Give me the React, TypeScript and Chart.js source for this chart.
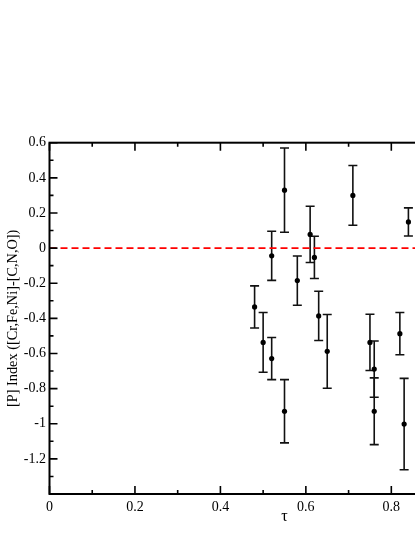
import React, { useEffect, useRef } from "react";
import { Chart, registerables } from "chart.js";
Chart.register(...registerables);

const tau = [0.48, 0.5, 0.52, 0.52, 0.55, 0.55, 0.58, 0.61, 0.62, 0.63, 0.65, 0.71, 0.75, 0.76, 0.76, 0.82, 0.83, 0.84];
const pIndex = [-0.335, -0.537, -0.044, -0.629, 0.33, -0.929, -0.185, 0.078, -0.053, -0.386, -0.588, 0.3, -0.537, -0.689, -0.929, -0.487, -1.002, 0.149];
const pErr = [0.12, 0.17, 0.14, 0.12, 0.24, 0.18, 0.14, 0.16, 0.12, 0.14, 0.21, 0.17, 0.16, 0.16, 0.19, 0.12, 0.26, 0.08];

const X_MIN = 0;
const X_MAX = 1.1;
const Y_MIN = -1.4;
const Y_MAX = 0.6;
const REF_Y = 0;
const X_LABEL = "τ";
const Y_LABEL = "[P] Index ([Cr,Fe,Ni]-[C,N,O])";

const SERIF = "'Liberation Serif', 'DejaVu Serif', serif";

const fmt = (v: number) => String(Number(v.toFixed(1)));

const errorBarPlugin = {
  id: "errorBars",
  beforeDatasetsDraw(chart: any) {
    const ctx = chart.ctx;
    const xs = chart.scales.x;
    const ys = chart.scales.y;
    ctx.save();
    ctx.strokeStyle = "#111";
    ctx.lineWidth = 1.6;
    const cap = 4.5;
    for (let i = 0; i < tau.length; i++) {
      const px = xs.getPixelForValue(tau[i]);
      const top = ys.getPixelForValue(pIndex[i] + pErr[i]);
      const bot = ys.getPixelForValue(pIndex[i] - pErr[i]);
      ctx.beginPath();
      ctx.moveTo(px, top);
      ctx.lineTo(px, bot);
      ctx.moveTo(px - cap, top);
      ctx.lineTo(px + cap, top);
      ctx.moveTo(px - cap, bot);
      ctx.lineTo(px + cap, bot);
      ctx.stroke();
    }
    ctx.restore();
  },
};

const framePlugin = {
  id: "frameTicks",
  afterDraw(chart: any) {
    const ctx = chart.ctx;
    const { left, right, top, bottom } = chart.chartArea;
    const xs = chart.scales.x;
    const ys = chart.scales.y;
    ctx.save();
    ctx.strokeStyle = "#000";
    ctx.lineWidth = 1.6;
    const major = 8;
    const minor = 4;
    for (let k = 0; k <= Math.round((X_MAX - X_MIN) / 0.1); k++) {
      const v = X_MIN + k * 0.1;
      const px = xs.getPixelForValue(v);
      const len = k % 2 === 0 ? major : minor;
      ctx.beginPath();
      ctx.moveTo(px, bottom);
      ctx.lineTo(px, bottom - len);
      ctx.moveTo(px, top);
      ctx.lineTo(px, top + len);
      ctx.stroke();
    }
    for (let k = 0; k <= Math.round((Y_MAX - Y_MIN) / 0.1); k++) {
      const v = Y_MIN + k * 0.1;
      const py = ys.getPixelForValue(v);
      const len = k % 2 === 0 ? major : minor;
      ctx.beginPath();
      ctx.moveTo(left, py);
      ctx.lineTo(left + len, py);
      ctx.moveTo(right, py);
      ctx.lineTo(right - len, py);
      ctx.stroke();
    }
    ctx.lineWidth = 2;
    ctx.strokeRect(left, top, right - left, bottom - top);
    ctx.restore();
  },
};

export default function App() {
  const ref = useRef<HTMLCanvasElement>(null);
  useEffect(() => {
    if (!ref.current) return;
    const prevMargin = document.body.style.margin;
    const prevHtml = document.documentElement.style.overflow;
    document.body.style.margin = "0";
    document.documentElement.style.overflow = "hidden";
    const chart = new Chart(ref.current, {
      type: "scatter",
      data: {
        datasets: [
          {
            type: "line",
            data: [
              { x: X_MIN, y: REF_Y },
              { x: X_MAX, y: REF_Y },
            ],
            borderColor: "#ff0000",
            borderWidth: 1.8,
            borderDash: [7, 4],
            pointRadius: 0,
            fill: false,
          } as any,
          {
            data: tau.map((t, i) => ({ x: t, y: pIndex[i] })),
            backgroundColor: "#000",
            borderColor: "#000",
            pointRadius: 2.6,
            borderWidth: 0,
          },
        ],
      },
      options: {
        responsive: false,
        animation: false,
        devicePixelRatio: 1,
        layout: { padding: { top: 142.7, left: 0, right: 10.5, bottom: 0 } },
        plugins: { legend: { display: false }, tooltip: { enabled: false } },
        scales: {
          x: {
            type: "linear",
            min: X_MIN,
            max: X_MAX,
            grid: { display: false, drawTicks: false },
            border: { display: false },
            afterFit: (s: any) => {
              s.height = 43;
            },
            ticks: {
              stepSize: 0.2,
              padding: 5,
              color: "#000",
              font: { family: SERIF, size: 14 },
              callback: (v: any) => (Math.abs(Number(v) - X_MAX) < 1e-6 ? "" : fmt(Number(v))),
            },
            title: {
              display: true,
              text: X_LABEL,
              color: "#000",
              font: { family: SERIF, size: 16 },
              padding: { top: 0, bottom: 10.5 },
            },
          },
          y: {
            type: "linear",
            min: Y_MIN,
            max: Y_MAX,
            grid: { display: false, drawTicks: false },
            border: { display: false },
            afterFit: (s: any) => {
              s.width = 49.5;
            },
            ticks: {
              stepSize: 0.2,
              padding: 3.5,
              color: "#000",
              font: { family: SERIF, size: 14 },
              callback: (v: any) => (Math.abs(Number(v) - Y_MIN) < 1e-6 ? "" : fmt(Number(v))),
            },
            title: {
              display: true,
              text: Y_LABEL,
              color: "#000",
              font: { family: SERIF, size: 14.3, lineHeight: 1 },
              padding: { top: 6.5, bottom: 0 },
            },
          },
        },
      },
      plugins: [errorBarPlugin, framePlugin],
    });
    return () => {
      chart.destroy();
      document.body.style.margin = prevMargin;
      document.documentElement.style.overflow = prevHtml;
    };
  }, []);
  return (
    <div style={{ width: 415, height: 537, overflow: "hidden" }}>
      <canvas ref={ref} width={530} height={537} style={{ display: "block" }} />
    </div>
  );
}
